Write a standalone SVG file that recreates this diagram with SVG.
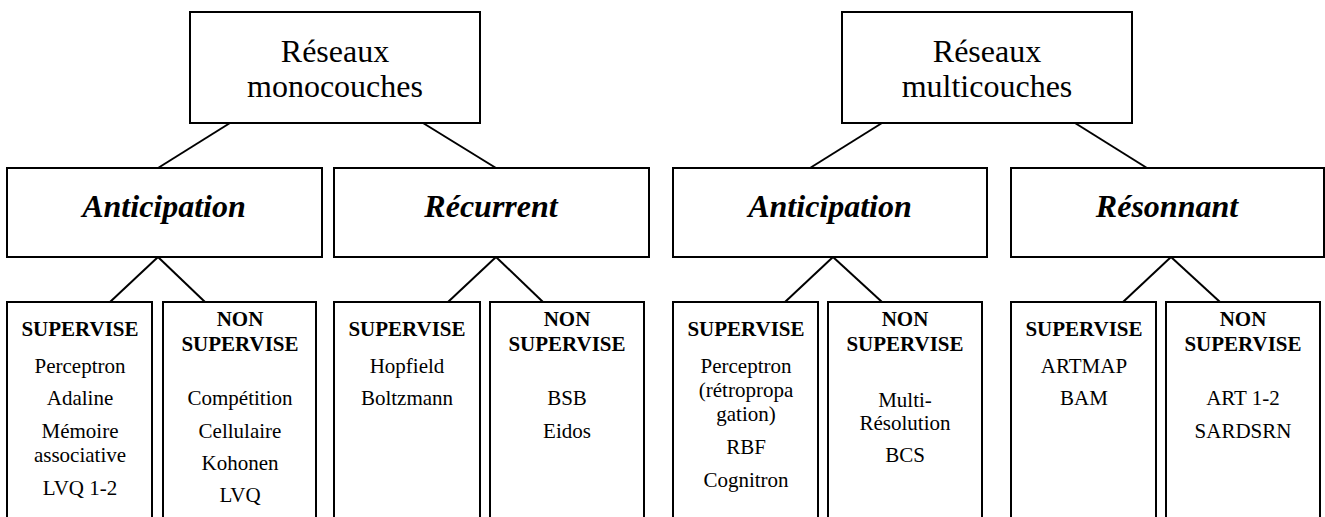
<svg xmlns="http://www.w3.org/2000/svg" width="1325" height="517" viewBox="0 0 1325 517" font-family="Liberation Serif, Times New Roman, serif">
<style>
  .box { fill: #fff; stroke: #000; stroke-width: 2; }
  .open { fill: none; stroke: #000; stroke-width: 2; }
  .conn line { stroke: #000; stroke-width: 2; }
  text { fill: #000; text-anchor: middle; }
  .top { font-size: 32px; }
  .mid { font-size: 32px; font-weight: bold; font-style: italic; }
  .hdr { font-size: 21px; font-weight: bold; }
  .item { font-size: 21px; }
</style>
<rect width="1325" height="517" fill="#fff"/>

<g id="connectors" class="conn">
  <line x1="230" y1="123" x2="158" y2="168"/>
  <line x1="423" y1="123" x2="496" y2="168"/>
  <line x1="882" y1="123" x2="810" y2="168"/>
  <line x1="1075" y1="123" x2="1147" y2="168"/>
  <line x1="158" y1="257" x2="110" y2="302"/>
  <line x1="158" y1="257" x2="205" y2="302"/>
  <line x1="496" y1="257" x2="448" y2="302"/>
  <line x1="496" y1="257" x2="543" y2="302"/>
  <line x1="833" y1="257" x2="785" y2="302"/>
  <line x1="833" y1="257" x2="882" y2="302"/>
  <line x1="1171" y1="257" x2="1123" y2="302"/>
  <line x1="1171" y1="257" x2="1220" y2="302"/>
</g>

<g id="mono">
  <rect class="box" x="190" y="12" width="290" height="111"/>
  <text class="top" x="335" y="62">Réseaux</text>
  <text class="top" x="335" y="97">monocouches</text>
</g>
<g id="multi">
  <rect class="box" x="842" y="12" width="290" height="111"/>
  <text class="top" x="987" y="62">Réseaux</text>
  <text class="top" x="987" y="97">multicouches</text>
</g>

<g id="anticipation1">
  <rect class="box" x="7" y="168" width="315" height="89"/>
  <text class="mid" x="164" y="217">Anticipation</text>
</g>
<g id="recurrent">
  <rect class="box" x="334" y="168" width="315" height="89"/>
  <text class="mid" x="491" y="217">Récurrent</text>
</g>
<g id="anticipation2">
  <rect class="box" x="673" y="168" width="314" height="89"/>
  <text class="mid" x="830" y="217">Anticipation</text>
</g>
<g id="resonnant">
  <rect class="box" x="1011" y="168" width="313" height="89"/>
  <text class="mid" x="1167" y="217">Résonnant</text>
</g>

<g id="sup1">
  <path class="open" d="M7,520 V302 H152 V520"/>
  <text class="hdr" x="80" y="336">SUPERVISE</text>
  <text class="item" x="80" y="373">Perceptron</text>
  <text class="item" x="80" y="405">Adaline</text>
  <text class="item" x="80" y="438">Mémoire</text>
  <text class="item" x="80" y="462">associative</text>
  <text class="item" x="80" y="495">LVQ 1-2</text>
</g>
<g id="nonsup1">
  <path class="open" d="M163,520 V302 H316 V520"/>
  <text class="hdr" x="240" y="326">NON</text>
  <text class="hdr" x="240" y="351">SUPERVISE</text>
  <text class="item" x="240" y="405">Compétition</text>
  <text class="item" x="240" y="438">Cellulaire</text>
  <text class="item" x="240" y="470">Kohonen</text>
  <text class="item" x="240" y="502">LVQ</text>
</g>
<g id="sup2">
  <path class="open" d="M334,520 V302 H480 V520"/>
  <text class="hdr" x="407" y="336">SUPERVISE</text>
  <text class="item" x="407" y="373">Hopfield</text>
  <text class="item" x="407" y="405">Boltzmann</text>
</g>
<g id="nonsup2">
  <path class="open" d="M490,520 V302 H644 V520"/>
  <text class="hdr" x="567" y="326">NON</text>
  <text class="hdr" x="567" y="351">SUPERVISE</text>
  <text class="item" x="567" y="405">BSB</text>
  <text class="item" x="567" y="438">Eidos</text>
</g>
<g id="sup3">
  <path class="open" d="M673,520 V302 H818 V520"/>
  <text class="hdr" x="746" y="336">SUPERVISE</text>
  <text class="item" x="746" y="373">Perceptron</text>
  <text class="item" x="746" y="397">(rétropropa</text>
  <text class="item" x="746" y="421">gation)</text>
  <text class="item" x="746" y="454">RBF</text>
  <text class="item" x="746" y="487">Cognitron</text>
</g>
<g id="nonsup3">
  <path class="open" d="M828,520 V302 H982 V520"/>
  <text class="hdr" x="905" y="326">NON</text>
  <text class="hdr" x="905" y="351">SUPERVISE</text>
  <text class="item" x="905" y="407">Multi-</text>
  <text class="item" x="905" y="430">Résolution</text>
  <text class="item" x="905" y="462">BCS</text>
</g>
<g id="sup4">
  <path class="open" d="M1011,520 V302 H1156 V520"/>
  <text class="hdr" x="1084" y="336">SUPERVISE</text>
  <text class="item" x="1084" y="373">ARTMAP</text>
  <text class="item" x="1084" y="405">BAM</text>
</g>
<g id="nonsup4">
  <path class="open" d="M1166,520 V302 H1320 V520"/>
  <text class="hdr" x="1243" y="326">NON</text>
  <text class="hdr" x="1243" y="351">SUPERVISE</text>
  <text class="item" x="1243" y="405">ART 1-2</text>
  <text class="item" x="1243" y="438">SARDSRN</text>
</g>
</svg>
